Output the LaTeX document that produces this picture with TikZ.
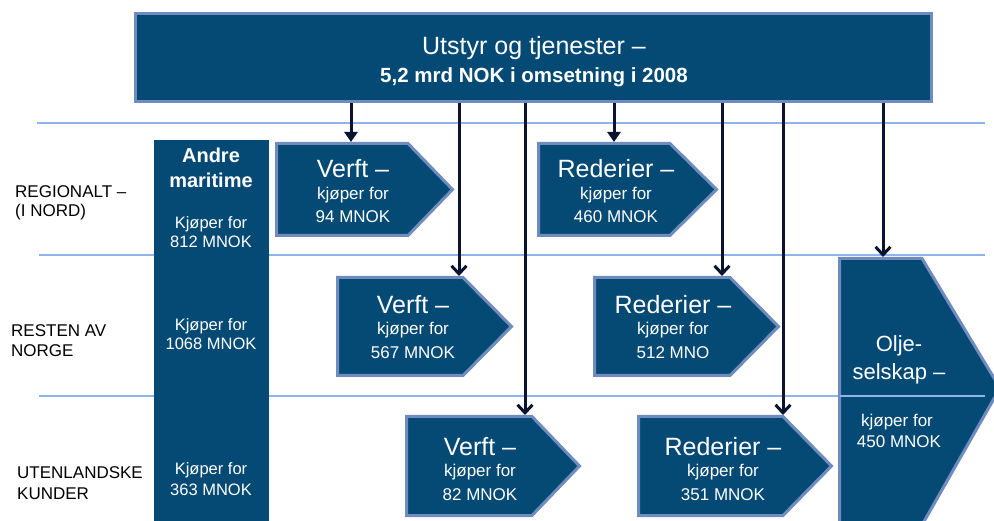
\documentclass[tikz,border=0pt]{standalone}
\usepackage{fontspec}
\setmainfont{Liberation Sans}
\usetikzlibrary{arrows.meta}
\definecolor{boxblue}{RGB}{4,74,117}
\definecolor{edgeblue}{RGB}{112,140,190}
\definecolor{rulebl}{RGB}{141,180,235}
\definecolor{arrnavy}{RGB}{10,20,48}
\begin{document}
\begin{tikzpicture}[x=1pt,y=-1pt,
  card/.style={fill=boxblue, draw=edgeblue, line width=3pt, line join=miter},
  topbox/.style={fill=boxblue, draw=edgeblue, line width=3pt, inner sep=0pt,
                 minimum width=796pt, minimum height=88pt},
  colbox/.style={fill=boxblue, draw=none},
  rulel/.style={draw=rulebl, line width=1.8pt},
  ttl/.style={text=white, anchor=base, inner sep=0pt, font=\fontsize{25}{30}\selectfont},
  oljettl/.style={text=white, anchor=base, inner sep=0pt, font=\fontsize{22}{26}\selectfont},
  sml/.style={text=white, anchor=base, inner sep=0pt, font=\fontsize{17}{20}\selectfont},
  colbold/.style={text=white, anchor=base, inner sep=0pt, font=\bfseries\fontsize{20}{24}\selectfont},
  coltxt/.style={text=white, anchor=base, inner sep=0pt, font=\fontsize{16.5}{20}\selectfont},
  lbl/.style={text=black, anchor=base west, inner sep=0pt, font=\fontsize{17}{20}\selectfont},
  arrA/.style={draw=arrnavy, line width=3pt, -{Triangle[length=10pt,width=13pt]}},
  arrB/.style={draw=arrnavy, line width=3pt, -{Straight Barb[length=8pt,width=15pt]}}]
\useasboundingbox (0,0) rectangle (994,521);
\begin{scope}
\clip (0,0) rectangle (994,521);

% horizontal rules
\coordinate (ru1a) at (37,123);  \coordinate (ru1b) at (985,123);
\coordinate (ru2a) at (39,255);  \coordinate (ru2b) at (985,255);
\coordinate (ru3a) at (39,396);  \coordinate (ru3b) at (985,396);
\draw[rulel] (ru1a) -- (ru1b);
\draw[rulel] (ru2a) -- (ru2b);
\draw[rulel] (ru3a) -- (ru3b);

% top box
\node[topbox] (top) at (533.5,57.5) {};
\node[ttl] (topA) at (534,55) {Utstyr og tjenester –};
\node[text=white, anchor=base, inner sep=0pt, font=\bfseries\fontsize{20.5}{24}\selectfont] (topB) at (534,83) {5,2 mrd NOK i omsetning i 2008};

% Andre maritime column
\path[colbox] (154,140) rectangle (269,525);
\node[colbold] (am1) at (211,163) {Andre};
\node[colbold] (am2) at (211,188) {maritime};
\node[coltxt] (am3) at (211,229) {Kjøper for};
\node[coltxt] (am4) at (211,248) {812 MNOK};
\node[coltxt] (am5) at (211,331) {Kjøper for};
\node[coltxt] (am6) at (211,350) {1068 MNOK};
\node[coltxt] (am7) at (211,475) {Kjøper for};
\node[coltxt] (am8) at (211,495) {363 MNOK};

% left labels
\node[lbl] (l1a) at (15,198) {REGIONALT –};
\node[lbl] (l1b) at (15,217) {(I NORD)};
\node[lbl] (l2a) at (11,337) {RESTEN AV};
\node[lbl] (l2b) at (11,357) {NORGE};
\node[lbl] (l3a) at (17,478) {UTENLANDSKE};
\node[lbl] (l3b) at (17,499) {KUNDER};

% row 1
\path[card] (276.5,143.5) -- (408,143.5) -- (452.5,189.5) -- (408,235.5) -- (276.5,235.5) -- cycle;
\node[ttl] (v1a) at (353,178) {Verft –};
\node[sml] (v1b) at (353,199.5) {kjøper for};
\node[sml] (v1c) at (353,223) {94 MNOK};
\coordinate (v1in) at (351,142);

\path[card] (538.5,143.5) -- (670,143.5) -- (716.5,189.5) -- (670,235.5) -- (538.5,235.5) -- cycle;
\node[ttl] (d1a) at (616,178) {Rederier –};
\node[sml] (d1b) at (616,199.5) {kjøper for};
\node[sml] (d1c) at (616,223) {460 MNOK};
\coordinate (d1in) at (614,142);

% row 2
\path[card] (337.5,277.5) -- (463,277.5) -- (511.5,326.5) -- (463,375.5) -- (337.5,375.5) -- cycle;
\node[ttl] (v2a) at (413,314) {Verft –};
\node[sml] (v2b) at (413,335) {kjøper for};
\node[sml] (v2c) at (413,359) {567 MNOK};
\coordinate (v2in) at (459,276);

\path[card] (594.5,277.5) -- (730,277.5) -- (778.5,326.5) -- (730,375.5) -- (594.5,375.5) -- cycle;
\node[ttl] (d2a) at (673,314) {Rederier –};
\node[sml] (d2b) at (673,335) {kjøper for};
\node[sml] (d2c) at (673,359) {512 MNO};
\coordinate (d2in) at (722,276);

% row 3
\path[card] (406.5,416.5) -- (532,416.5) -- (579.5,466) -- (532,515.5) -- (406.5,515.5) -- cycle;
\node[ttl] (v3a) at (480,455) {Verft –};
\node[sml] (v3b) at (480,476) {kjøper for};
\node[sml] (v3c) at (480,500) {82 MNOK};
\coordinate (v3in) at (525,415);

\path[card] (638.5,416.5) -- (783,416.5) -- (831.5,466) -- (783,515.5) -- (638.5,515.5) -- cycle;
\node[ttl] (d3a) at (723,455) {Rederier –};
\node[sml] (d3b) at (723,476) {kjøper for};
\node[sml] (d3c) at (723,500) {351 MNOK};
\coordinate (d3in) at (783,415);

% oil companies
\path[card] (839.5,258.5) -- (922,258.5) -- (1000,388) -- (922,525) -- (839.5,525) -- cycle;
\coordinate (o3a) at (839.5,396);
\draw[rulel] (o3a) -- (ru3b);
\node[oljettl] (o1) at (899,352) {Olje-};
\node[oljettl] (o2) at (899,380) {selskap –};
\node[sml] (o3) at (897,427) {kjøper for};
\node[sml] (o4) at (899,447) {450 MNOK};
\coordinate (oin) at (883,257);

% arrows
\draw[arrA] (top.south -| v1in) -- (v1in);
\draw[arrA] (top.south -| d1in) -- (d1in);
\draw[arrB] (top.south -| v2in) -- (v2in);
\draw[arrB] (top.south -| d2in) -- (d2in);
\draw[arrB] (top.south -| v3in) -- (v3in);
\draw[arrB] (top.south -| d3in) -- (d3in);
\draw[arrB] (top.south -| oin) -- (oin);
\end{scope}
\end{tikzpicture}
\end{document}
